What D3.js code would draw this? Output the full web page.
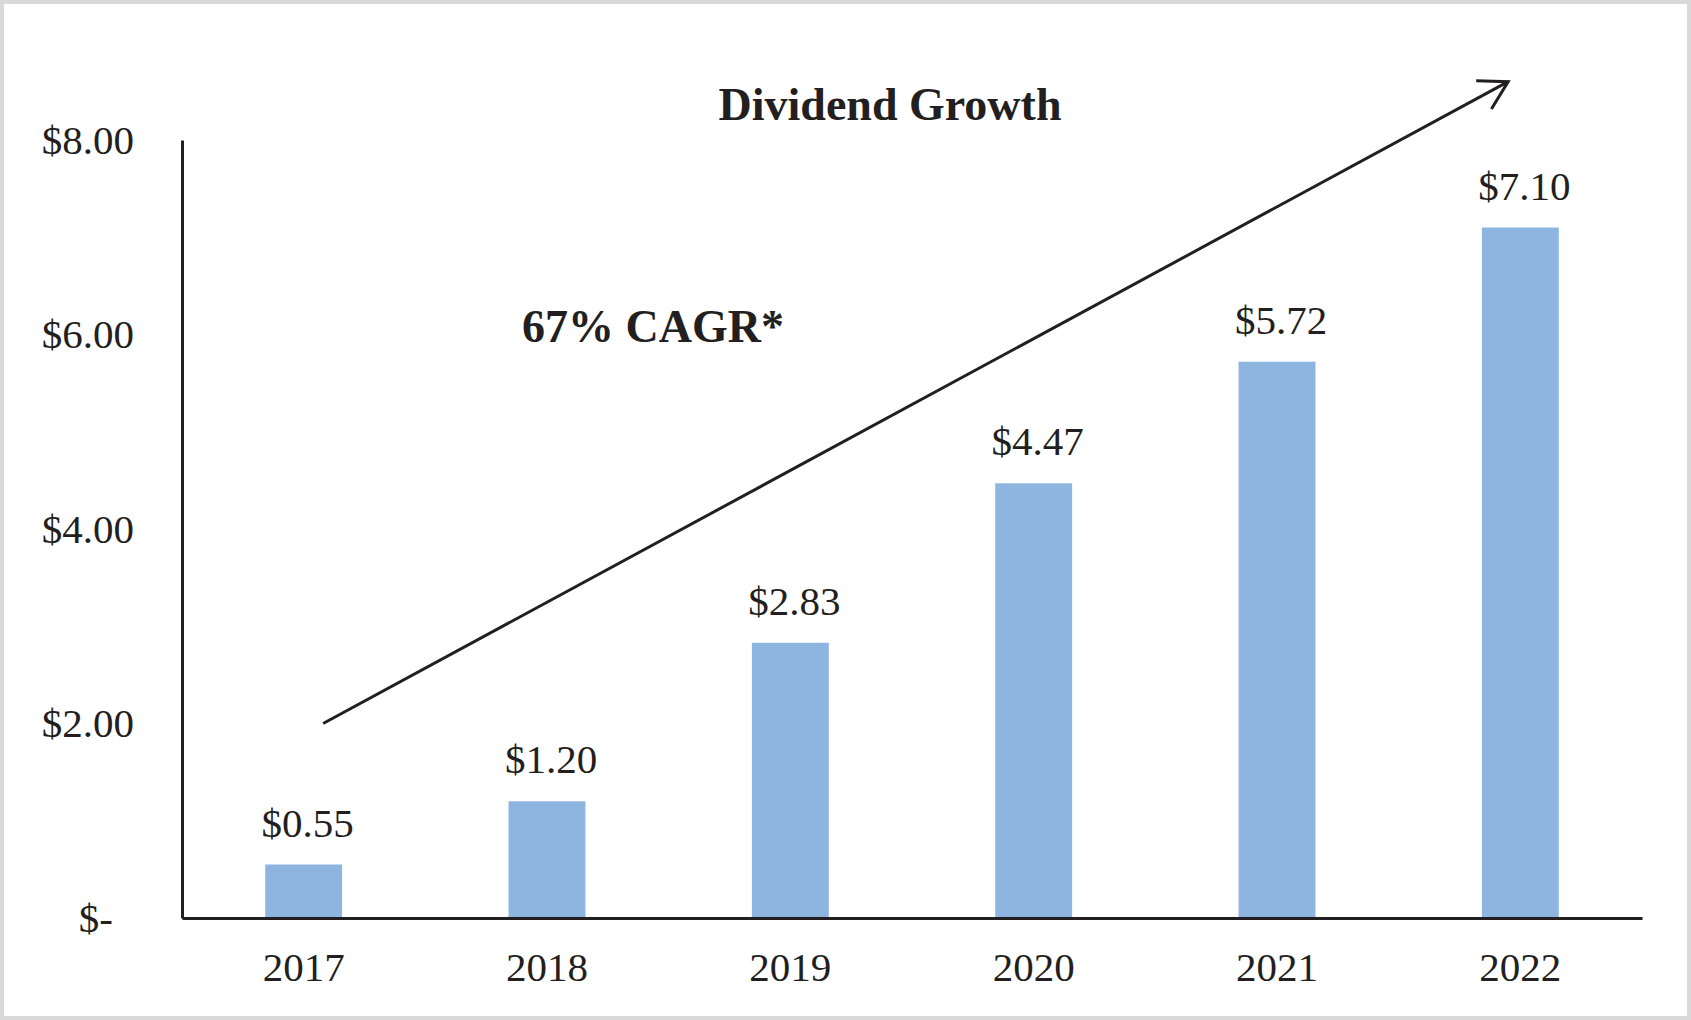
<!DOCTYPE html>
<html>
<head>
<meta charset="utf-8">
<script src="https://cdn.jsdelivr.net/npm/d3@7"></script>
<style>
  html, body { margin: 0; padding: 0; background: #fff; }
  svg { display: block; font-family: "Liberation Serif", "Times New Roman", serif; }
  .tick text { font-family: "Liberation Serif", "Times New Roman", serif; font-size: 41px; fill: #231f20; }
  .bar-label { font-size: 41px; fill: #231f20; text-anchor: middle; }
  .title { font-size: 46px; font-weight: bold; fill: #231f20; }
</style>
</head>
<body>
<svg id="chart" width="1691" height="1020"></svg>
<script>
// data
const years = ["2017", "2018", "2019", "2020", "2021", "2022"];
const dividends = [0.55, 1.20, 2.83, 4.47, 5.72, 7.10];
const yTicks = [0, 2, 4, 6, 8];

// arrow annotation in (category index, value) units
const arrowFrom = [0.08, 2.0];
const arrowTo = [4.95, 8.6];

const svg = d3.select("#chart");
const width = +svg.attr("width");
const height = +svg.attr("height");

const margin = { top: 140, right: 49, bottom: 102, left: 182 };
const innerWidth = width - margin.left - margin.right;
const innerHeight = height - margin.top - margin.bottom;

// outer frame
svg.append("rect")
  .attr("x", 2).attr("y", 2)
  .attr("width", width - 4).attr("height", height - 4)
  .attr("fill", "#fff")
  .attr("stroke", "#d9d9d9")
  .attr("stroke-width", 4);

const g = svg.append("g")
  .attr("transform", `translate(${margin.left},${margin.top})`);

const xScale = d3.scaleBand()
  .domain(years)
  .range([0, innerWidth])
  .paddingInner(0.684)
  .paddingOuter(0.342);

const yScale = d3.scaleLinear()
  .domain([0, 8])
  .range([innerHeight, 0]);

// index -> center x, for the arrow
const step = xScale.step();
const xIndex = (i) => xScale(years[0]) + xScale.bandwidth() / 2 + i * step;

// bars
g.selectAll("rect.bar")
  .data(dividends)
  .enter()
  .append("rect")
  .attr("class", "bar")
  .attr("x", (d, i) => xScale(years[i]))
  .attr("y", (d) => yScale(d))
  .attr("width", xScale.bandwidth())
  .attr("height", (d) => innerHeight - yScale(d))
  .attr("fill", "#8eb4e0");

// value labels
g.selectAll("text.bar-label")
  .data(dividends)
  .enter()
  .append("text")
  .attr("class", "bar-label")
  .attr("x", (d, i) => xScale(years[i]) + xScale.bandwidth() / 2 + 4)
  .attr("y", (d) => yScale(d) - 28)
  .text((d) => "$" + d.toFixed(2));

// axes
const yAxis = d3.axisLeft(yScale)
  .tickValues(yTicks)
  .tickSize(0)
  .tickSizeOuter(0)
  .tickPadding(48)
  .tickFormat((d) => (d === 0 ? "$-" : "$" + d.toFixed(2)));

const yAxisG = g.append("g").call(yAxis);
yAxisG.attr("font-family", null).attr("font-size", null);
yAxisG.select(".domain").attr("stroke", "#231f20").attr("stroke-width", 3);
yAxisG.selectAll(".tick text")
  .filter((d) => d === 0)
  .attr("dx", -21);

const xAxis = d3.axisBottom(xScale)
  .tickSize(0)
  .tickSizeOuter(0)
  .tickPadding(34);

const xAxisG = g.append("g")
  .attr("transform", `translate(0,${innerHeight})`)
  .call(xAxis);
xAxisG.attr("font-family", null).attr("font-size", null);
xAxisG.select(".domain").attr("stroke", "#231f20").attr("stroke-width", 3);

// arrow
svg.append("defs")
  .append("marker")
  .attr("id", "head")
  .attr("markerUnits", "userSpaceOnUse")
  .attr("viewBox", "-32 -20 36 40")
  .attr("refX", 0).attr("refY", 0)
  .attr("markerWidth", 36).attr("markerHeight", 40)
  .attr("orient", "auto")
  .append("path")
  .attr("d", "M-27.7,-16L0,0L-27.7,16")
  .attr("fill", "none")
  .attr("stroke", "#231f20")
  .attr("stroke-width", 3);

g.append("line")
  .attr("x1", xIndex(arrowFrom[0]))
  .attr("y1", yScale(arrowFrom[1]))
  .attr("x2", xIndex(arrowTo[0]))
  .attr("y2", yScale(arrowTo[1]))
  .attr("stroke", "#231f20")
  .attr("stroke-width", 3)
  .attr("marker-end", "url(#head)");

// titles
svg.append("text")
  .attr("class", "title")
  .attr("x", 890)
  .attr("y", 120)
  .attr("text-anchor", "middle")
  .text("Dividend Growth");

svg.append("text")
  .attr("class", "title")
  .attr("x", 522)
  .attr("y", 342)
  .text("67% CAGR*");
</script>
</body>
</html>
